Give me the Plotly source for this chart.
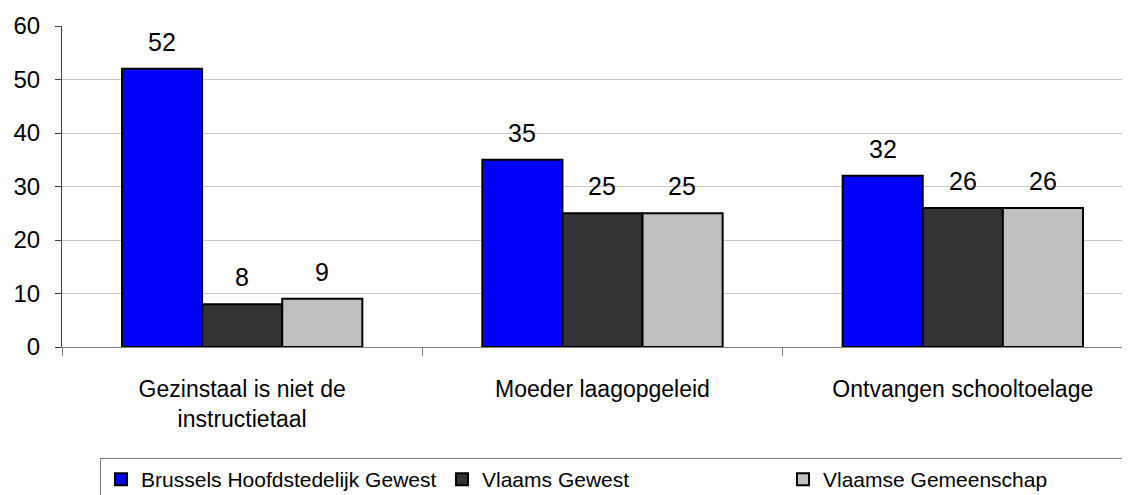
import plotly.graph_objects as go

categories = ["Gezinstaal is niet de<br>instructietaal", "Moeder laagopgeleid", "Ontvangen schooltoelage"]
series_names = ["Brussels Hoofdstedelijk Gewest", "Vlaams Gewest", "Vlaamse Gemeenschap"]
brussels = [52, 35, 32]
vlaams_gewest = [8, 25, 26]
vlaamse_gem = [9, 25, 26]
y_ticks = [0, 10, 20, 30, 40, 50, 60]

colors = ["#0000FF", "#333333", "#C0C0C0"]
series = [brussels, vlaams_gewest, vlaamse_gem]
FONT = "Liberation Sans, Arial, sans-serif"

fig = go.Figure()
for name, vals, col in zip(series_names, series, colors):
    fig.add_trace(go.Bar(
        x=categories, y=vals, name=name,
        marker=dict(color=col, line=dict(color="#000000", width=2)),
    ))

offsets = [-80, 0, 80]
for vals, off in zip(series, offsets):
    for c, v in zip(categories, vals):
        fig.add_annotation(x=c, y=v, text=str(v), showarrow=False,
                           xshift=off, yanchor="bottom", yshift=11,
                           font=dict(size=25, color="#000000", family=FONT))

fig.update_layout(
    width=1130, height=495,
    margin=dict(l=54, r=8, t=18, b=156, autoexpand=False),
    paper_bgcolor="white", plot_bgcolor="white",
    barmode="group", bargap=0.333, bargroupgap=0,
    font=dict(family=FONT, size=24, color="#000000"),
    showlegend=True,
    legend=dict(orientation="h", x=0.0356, xanchor="left", y=-0.346, yanchor="top",
                bordercolor="#808080", borderwidth=1, bgcolor="white",
                font=dict(size=21, family=FONT), entrywidth=296, entrywidthmode="pixels",
                itemwidth=30, tracegroupgap=0),
    xaxis=dict(range=[-0.5, 2.464], showline=True, linecolor="#808080", linewidth=1,
               ticks="outside", tickson="boundaries", ticklen=8, tickcolor="#808080",
               ticklabelstandoff=21, tickfont=dict(size=23), showgrid=False),
    yaxis=dict(range=[0, 60], tickvals=y_ticks, showline=True, linecolor="#404040", linewidth=1,
               ticks="outside", ticklen=6, tickcolor="#404040", ticklabelstandoff=10,
               showgrid=True, gridcolor="#C8C8C8", gridwidth=1, zeroline=False,
               tickfont=dict(size=24)),
)

fig.write_html("out.html")
